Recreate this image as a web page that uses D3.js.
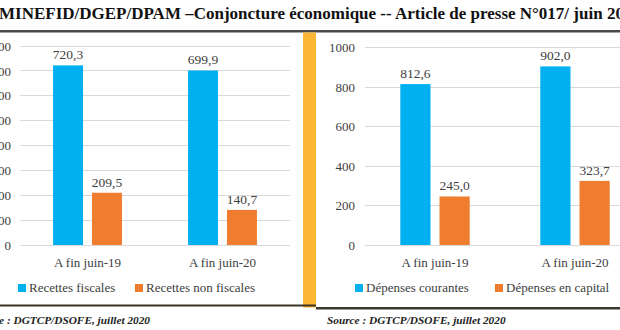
<!DOCTYPE html>
<html><head><meta charset="utf-8">
<script src="https://cdn.jsdelivr.net/npm/d3@7"></script>
<style>
html,body{margin:0;padding:0;background:#fff;overflow:hidden;}
svg{display:block;}
</style></head>
<body>
<svg id="c" width="620" height="330"></svg>
<script>
// ---- data ----
const titleText = "MINEFID/DGEP/DPAM –Conjoncture économique -- Article de presse N°017/ juin 2020";
const sourceText = "Source : DGTCP/DSOFE, juillet 2020";
const categories = ["A fin juin-19", "A fin juin-20"];
const recettesFiscales = [720.3, 699.9];
const recettesNonFiscales = [209.5, 140.7];
const depensesCourantes = [812.6, 902.0];
const depensesCapital = [245.0, 323.7];
const leftTicks = [0, 100, 200, 300, 400, 500, 600, 700, 800];
const rightTicks = [0, 200, 400, 600, 800, 1000];
const leftSeries = ["Recettes fiscales", "Recettes non fiscales"];
const rightSeries = ["Dépenses courantes", "Dépenses en capital"];

const BLUE = "#00B0F0", ORANGE = "#F07C30";
const fmt = v => d3.format(".1f")(v).replace(".", ",");
const svg = d3.select("#c");
const serif = "'Liberation Serif','Times New Roman',serif";

// title
svg.append("text").attr("x", -1).attr("y", 19)
  .attr("font-family", serif).attr("font-weight", "bold").attr("font-size", 17)
  .attr("fill", "#111").text(titleText);
svg.append("rect").attr("x", 0).attr("y", 30).attr("width", 620).attr("height", 2.5).attr("fill", "#4a4a4a");

// separator
svg.append("rect").attr("x", 303).attr("y", 32.5).attr("width", 13).attr("height", 275).attr("fill", "#FBB734");

// bottom lines
svg.append("rect").attr("x", 0).attr("y", 304.5).attr("width", 316).attr("height", 2).attr("fill", "#3d3322");
svg.append("rect").attr("x", 316).attr("y", 307).attr("width", 304).attr("height", 2.5).attr("fill", "#3a3a30");

function panel(cfg) {
  const g = svg.append("g");
  const y = d3.scaleLinear().domain(cfg.domain).range(cfg.yRange);
  const x = d3.scaleBand().domain(categories).range(cfg.xRange).padding(0);
  const xs = d3.scaleBand().domain(cfg.series).range([0, x.bandwidth()])
    .paddingInner(0.23).paddingOuter(cfg.po);

  // grid
  g.append("g").selectAll("line").data(cfg.ticks).join("line")
    .attr("x1", cfg.gridX[0]).attr("x2", cfg.gridX[1])
    .attr("y1", d => Math.round(y(d)) + 0.5).attr("y2", d => Math.round(y(d)) + 0.5)
    .attr("stroke", "#D9D9D9").attr("stroke-width", 1);

  // y axis labels
  const ax = d3.axisLeft(y).tickValues(cfg.ticks).tickSize(0).tickPadding(0).tickFormat(d3.format("d"));
  const axg = g.append("g").attr("transform", `translate(${cfg.labelX},0)`).call(ax);
  axg.select(".domain").remove();
  axg.attr("font-family", serif).attr("font-size", 13);
  axg.selectAll("text").attr("fill", "#404040").attr("dy", "0.35em");

  // bars
  const vals = [cfg.s1, cfg.s2];
  const colors = [BLUE, ORANGE];
  vals.forEach((arr, si) => {
    const data = categories.map((c, i) => ({c, v: arr[i]}));
    g.append("g").selectAll("rect").data(data).join("rect")
      .attr("x", d => x(d.c) + xs(cfg.series[si]))
      .attr("width", xs.bandwidth())
      .attr("y", d => y(d.v)).attr("height", d => y(0) - y(d.v))
      .attr("fill", colors[si]);
    g.append("g").selectAll("text").data(data).join("text")
      .attr("x", d => x(d.c) + xs(cfg.series[si]) + xs.bandwidth() / 2)
      .attr("y", d => y(d.v) - 6)
      .attr("text-anchor", "middle").attr("font-family", serif).attr("font-size", 13.5)
      .attr("fill", "#404040").text(d => fmt(d.v));
  });

  // category labels
  const xa = d3.axisBottom(x).tickSize(0).tickPadding(0);
  const xg = g.append("g").attr("transform", `translate(0,${cfg.catY})`).call(xa);
  xg.select(".domain").remove();
  xg.attr("font-family", serif).attr("font-size", 13);
  xg.selectAll("text").attr("fill", "#404040").attr("dy", 0);

  // legend
  cfg.series.forEach((s, i) => {
    const lx = cfg.legendX[i];
    g.append("rect").attr("x", lx).attr("y", 284).attr("width", 8).attr("height", 8).attr("fill", colors[i]);
    g.append("text").attr("x", lx + 11).attr("y", 292).attr("font-family", serif).attr("font-size", 13)
      .attr("fill", "#404040").text(s);
  });
}

panel({domain: [0, 800], yRange: [245, 45.5], xRange: [20, 290], gridX: [20, 290], labelX: 11,
  ticks: leftTicks, series: leftSeries, s1: recettesFiscales, s2: recettesNonFiscales, po: 0.85,
  catY: 267, legendX: [18, 135]});
panel({domain: [0, 1000], yRange: [245, 47], xRange: [365, 645], gridX: [365, 620], labelX: 355,
  ticks: rightTicks, series: rightSeries, s1: depensesCourantes, s2: depensesCapital, po: 0.9,
  catY: 267, legendX: [355, 495]});

// sources
svg.append("text").attr("x", 150).attr("y", 324).attr("text-anchor", "end")
  .attr("font-family", serif).attr("font-weight", "bold").attr("font-style", "italic").attr("font-size", 11.3)
  .attr("fill", "#222").text(sourceText);
svg.append("text").attr("x", 327).attr("y", 324)
  .attr("font-family", serif).attr("font-weight", "bold").attr("font-style", "italic").attr("font-size", 11.3)
  .attr("fill", "#222").text(sourceText);
</script>
</body></html>
